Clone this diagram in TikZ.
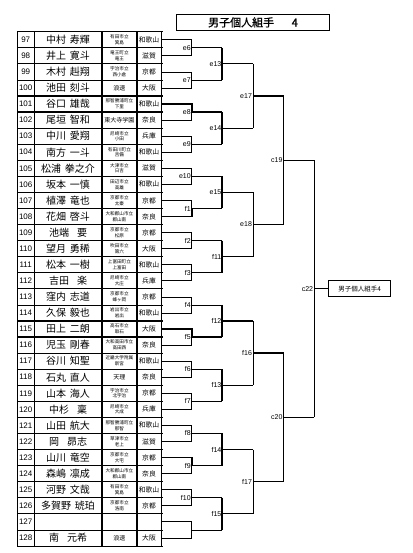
\documentclass[tikz,border=0pt]{standalone}
\usepackage{fontspec}
\setmainfont{Liberation Sans}
\newfontfamily\jp{Noto Sans CJK JP}
\newfontfamily\jpb[FakeBold=1.2]{Noto Sans CJK JP}
\usetikzlibrary{calc}
\newcommand{\nsp}{\hspace{.4em}}
\newcommand{\wsp}{\hspace{.8em}}
\newcommand{\onel}[1]{{\fontsize{6}{6}\selectfont #1}}
\tikzset{
  rule/.style={draw=black, line width=0.7pt},
  heavy/.style={draw=black, line width=1.8pt},
  num/.style={font=\fontsize{8}{8}\selectfont, inner sep=0pt},
  who/.style={font=\jp\fontsize{10}{10}\selectfont, inner sep=0pt},
  sch/.style={font=\jp\fontsize{4.6}{5.8}\selectfont, inner sep=0pt, align=center},
  pref/.style={font=\jp\fontsize{6.8}{6.8}\selectfont, inner sep=0pt},
  lab/.style={font=\fontsize{7}{7}\selectfont, inner sep=0.8pt, anchor=east},
  titlebox/.style={draw=black, line width=0.8pt, minimum width=152.6pt, minimum height=16.7pt, inner sep=0pt, font=\jpb\fontsize{11}{11}\selectfont},
  resbox/.style={draw=black, line width=0.9pt, minimum width=61.7pt, minimum height=16pt, inner sep=0pt, anchor=west, font=\jp\fontsize{6.5}{6.5}\selectfont},
}
\begin{document}
\begin{tikzpicture}[x=1pt,y=-1pt]
\useasboundingbox (0,0) rectangle (412,553);
% table: 32 rows, 16.07 high, from y=31.7
\def\Top{31.7}
\def\Rh{16.07}
\def\Lx{17.3}
\def\Rx{161}
% bracket: first joint column, then step per round
\def\Xa{191.7}
\def\G{30.6}
% title
\node[titlebox] (title) at (253,22.4) {男子個人組手\hspace{1.6em}4};
% row rules, with short ticks past the right edge
\foreach \i in {0,...,32}
  \draw[rule] (\Lx,{\Top+\Rh*\i}) -- (\Rx+2,{\Top+\Rh*\i});
\foreach \i in {4,5,11,12,18,19,26,27}
  \draw[heavy] (\Lx,{\Top+\Rh*\i}) -- (\Rx+2,{\Top+\Rh*\i});
\foreach \x/\st in {17.3/rule,34/rule,101.7/heavy,137/heavy,161/rule}
  \draw[\st] (\x,\Top) -- (\x,{\Top+\Rh*32});
% entries
\foreach \n/\nm/\sc/\pf in {
  97/中村\nsp 寿輝/有田市立\\箕島/和歌山,
  98/井上\nsp 寛斗/竜王町立\\竜王/滋賀,
  99/木村\nsp 赳翔/宇治市立\\西小倉/京都,
  100/池田\nsp 刻斗/\onel{浪速}/大阪,
  101/谷口\nsp 雄哉/那智勝浦町立\\下里/和歌山,
  102/尾垣\nsp 智和/\onel{東大寺学園}/奈良,
  103/中川\nsp 愛翔/尼崎市立\\小田/兵庫,
  104/南方\nsp 一斗/有田川町立\\吉備/和歌山,
  105/松浦\nsp 拳之介/大津市立\\日吉/滋賀,
  106/坂本\nsp 一慎/田辺市立\\高雄/和歌山,
  107/植澤\nsp 竜也/京都市立\\太秦/京都,
  108/花畑\nsp 啓斗/大和郡山市立\\郡山南/奈良,
  109/池端\wsp 要/京都市立\\松原/京都,
  110/望月\nsp 勇稀/吹田市立\\第六/大阪,
  111/松本\nsp 一樹/上富田町立\\上富田/和歌山,
  112/吉田\wsp 楽/尼崎市立\\大庄/兵庫,
  113/窪内\nsp 志道/京都市立\\蜂ヶ岡/京都,
  114/久保\nsp 毅也/岩出市立\\岩出/和歌山,
  115/田上\nsp 二朗/高石市立\\取石/大阪,
  116/児玉\nsp 剛春/大和高田市立\\高田西/奈良,
  117/谷川\nsp 知聖/近畿大学附属\\新宮/和歌山,
  118/石丸\nsp 直人/\onel{天理}/奈良,
  119/山本\nsp 海人/宇治市立\\北宇治/京都,
  120/中杉\wsp 稟/尼崎市立\\大成/兵庫,
  121/山田\nsp 航大/那智勝浦町立\\那智/和歌山,
  122/岡\wsp 昴志/草津市立\\老上/滋賀,
  123/山川\nsp 竜空/京都市立\\大宅/京都,
  124/森嶋\nsp 凛成/大和郡山市立\\郡山南/奈良,
  125/河野\nsp 文哉/有田市立\\箕島/和歌山,
  126/多賀野\nsp 琥珀/京都市立\\洛南/京都,
  128/南\wsp 元希/\onel{浪速}/大阪}{
  \node[num] (n\n) at (25.7,{\Top+\Rh*(\n-96.5)}) {\n};
  \node[who] (w\n) at (68,{\Top+\Rh*(\n-96.5)}) {\nm};
  \node[sch] (s\n) at (119.4,{\Top+\Rh*(\n-96.5)}) {\sc};
  \node[pref] (p\n) at (149,{\Top+\Rh*(\n-96.5)}) {\pf};
}
\node[num] (n127) at (25.7,{\Top+\Rh*30.5}) {127};
% row ends
\foreach \n in {97,...,128}
  \coordinate (r\n) at (\Rx,{\Top+\Rh*(\n-96.5)});
% first round
\foreach \m/\a/\b in {e6/97/98,e7/99/100,e8/101/102,e9/103/104,e10/105/106,f1/107/108,
    f2/109/110,f3/111/112,f4/113/114,f5/115/116,f6/117/118,f7/119/120,f8/121/122,
    f9/123/124,f10/125/126,g0/127/128}{
  \coordinate (\m) at (\Xa,{\Top+\Rh*(\a-96)});
  \draw[rule] (r\a) -| (\m) |- (r\b);
}
\foreach \w/\m in {101/e8,108/f1,115/f5,123/f9}
  \draw[heavy] (r\w) -| (\m);
% later rounds: joint/upper/lower/upper line/lower line/vertical
\foreach \m/\a/\b/\sa/\sb/\sv in {
  e13/e6/e7/rule/rule/heavy, e14/e8/e9/heavy/rule/heavy,
  e15/e10/f1/rule/heavy/heavy, f11/f2/f3/rule/rule/heavy,
  f12/f4/f5/rule/heavy/heavy, f13/f6/f7/rule/rule/heavy,
  f14/f8/f9/rule/heavy/heavy, f15/f10/g0/rule/rule/heavy,
  e17/e13/e14/rule/rule/rule, e18/e15/f11/rule/rule/rule,
  f16/f12/f13/heavy/rule/rule, f17/f14/f15/heavy/rule/rule,
  c19/e17/e18/heavy/heavy/heavy, c20/f16/f17/heavy/rule/heavy,
  c22/c19/c20/rule/rule/rule}{
  \coordinate (\m) at ($(\a)!.5!(\b)+(\G,0)$);
  \draw[\sa] (\a) -- (\a -| \m);
  \draw[\sb] (\b) -- (\b -| \m);
  \draw[\sv] (\a -| \m) -- (\b -| \m);
}
% match numbers
\foreach \m in {e6,e7,e8,e9,e10,f1,f2,f3,f4,f5,f6,f7,f8,f9,f10,
    e13,e14,e15,f11,f12,f13,f14,f15,e17,e18,f16,f17,c19,c20,c22}
  \node[lab] (t\m) at (\m) {\m};
% result
\node[resbox] (champ) at ($(c22)+(14.3,0)$) {男子個人組手4};
\draw[rule] (c22) -- (champ);
\end{tikzpicture}
\end{document}
